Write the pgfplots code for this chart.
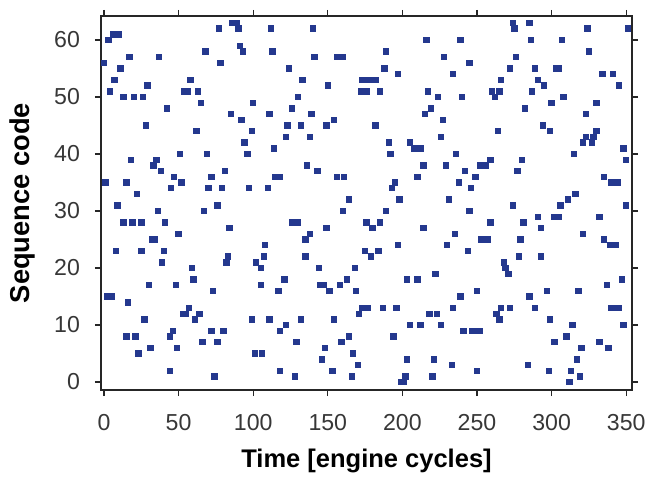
\documentclass[border=0pt]{standalone}
\usepackage{fontspec}
\setmainfont{Liberation Sans}
\usepackage{pgfplots}
\pgfplotsset{compat=1.18}
\definecolor{markblue}{RGB}{36,56,142}
\definecolor{ticktext}{RGB}{55,55,55}
\begin{document}
\begin{tikzpicture}
\useasboundingbox (-50.5bp,-44.5bp) rectangle (277bp,195bp);
\begin{axis}[
  name=ax, at={(0,0)}, anchor=south west,
  scale only axis, width=265.5bp, height=187bp,
  xmin=-2, xmax=353.9, ymin=-1.4, ymax=64.2,
  xtick={0,50,...,350}, ytick={0,10,...,60},
  tick align=outside, major tick length=3bp,
  xtick pos=both, ytick pos=both,
  axis line style={black!85, line width=0.6pt},
  every tick/.style={black!85, line width=0.6pt},
  /pgf/number format/assume math mode=true,
  tick label style={font=\fontsize{11.6}{14}\selectfont, text=ticktext},
  xticklabel style={yshift=-5.5bp},
  yticklabel style={xshift=-4bp},
  xlabel={Time [engine cycles]}, ylabel={Sequence code},
  xlabel style={font=\fontsize{12.8}{15}\bfseries\selectfont, at={(axis description cs:0.5,-0.19)}, anchor=center},
  ylabel style={font=\fontsize{13.7}{16}\bfseries\selectfont, at={(axis description cs:-0.147,0.5)}, anchor=center},
  clip=false,
]
\addplot[only marks, mark=square*, mark size=1.35bp, draw=markblue, fill=markblue] coordinates {
(3,60)(6,61)(8,61)(10,61)(77,62)(86,63)(0,56)(17,57)(37,57)(68,58)(78,56)(11,55)(7,53)(58,53)(4,51)(29,52)(54,51)(56,51)(63,51)(13,50)(20,50)(26,50)(65,49)(42,48)(85,47)(28,45)(62,44)(18,39)(35,39)(51,40)(69,40)(33,38)(38,37)(81,37)(1,35)(15,35)(52,35)(47,36)(72,36)(22,33)(45,34)(70,34)(79,34)
(9,31)(36,30)(67,30)(76,31)(13,28)(19,28)(25,28)(41,28)(84,27)(50,26)(32,25)(34,25)(8,23)(25,23)(40,23)(39,21)(83,22)(82,21)(59,20)(60,18)(30,17)(48,17)(2,15)(5,15)(73,16)(16,14)(27,11)(53,12)(55,12)(57,13)(61,11)(64,12)(15,8)(21,8)(44,8)(46,9)(72,9)(80,9)(66,7)(76,7)(31,6)(49,6)(23,5)(44,2)(74,1)
(89,63)(90,62)(112,62)(140,62)(91,59)(93,58)(113,58)(141,57)(156,57)(160,57)(124,55)(133,53)(150,52)(173,53)(177,53)(172,51)(176,51)(130,50)(100,49)(126,48)(92,46)(111,47)(139,47)(154,46)(99,44)(123,45)(132,45)(149,45)(94,42)(122,43)(138,43)(96,40)(114,41)(136,38)(143,37)(115,36)(118,36)(156,36)(161,36)(97,34)(110,34)(164,32)
(160,30)(126,28)(128,28)(130,28)(149,27)(176,28)(138,26)(135,25)(108,24)(107,22)(102,21)(105,20)(135,22)(144,20)(168,20)(121,18)(105,17)(117,16)(145,17)(147,17)(151,16)(158,17)(163,18)(169,16)(173,13)(177,13)(171,12)(99,11)(111,11)(132,11)(154,11)(122,10)(118,9)(164,8)(159,7)(129,7)(148,6)(167,5)(101,5)(106,5)(146,4)(170,3)(118,2)(153,2)(128,1)(166,1)
(216,60)(239,60)(189,58)(228,57)(245,56)(188,55)(197,54)(234,54)(179,53)(182,53)(266,53)(185,51)(217,51)(224,50)(240,50)(260,51)(265,51)(262,50)(219,48)(215,47)(227,46)(182,45)(264,44)(226,43)(191,42)(205,42)(208,41)(212,41)(192,40)(236,40)(214,38)(229,38)(252,38)(256,38)(259,39)(242,37)(249,36)(210,36)(238,35)(195,35)(193,34)(246,34)(198,32)(231,32)
(189,30)(245,30)(185,28)(180,27)(214,27)(259,28)(235,26)(253,25)(255,25)(257,25)(197,24)(230,24)(175,23)(179,22)(184,23)(244,23)(222,19)(203,18)(210,18)(250,16)(239,15)(187,13)(196,13)(234,13)(218,12)(223,12)(263,12)(265,11)(205,10)(212,10)(226,10)(241,9)(247,9)(250,9)(252,9)(194,8)(203,4)(221,4)(233,3)(250,2)(220,1)(199,0)(201,0)(202,1)
(274,63)(275,62)(285,63)(324,62)(351,62)(286,60)(307,60)(325,58)(276,57)(272,55)(289,55)(303,55)(305,55)(334,54)(341,54)(291,53)(295,52)(345,52)(287,51)(308,50)(300,49)(330,49)(282,48)(323,47)(294,45)(299,44)(321,42)(323,43)(327,42)(328,43)(330,44)(315,40)(348,41)(350,39)(280,39)(277,37)(335,36)(340,35)(342,35)(344,35)(316,33)(311,32)(306,31)(274,31)(350,31)
(281,28)(291,29)(302,29)(305,29)(332,29)(293,27)(321,26)(279,25)(335,25)(339,24)(341,24)(343,24)(278,22)(293,22)(268,21)(269,20)(271,19)(347,18)(337,17)(297,16)(318,16)(285,15)(266,13)(272,13)(289,13)(340,13)(343,13)(345,13)(299,11)(314,10)(348,10)(310,8)(302,7)(332,7)(320,6)(338,6)(317,4)(284,3)(298,2)(313,2)(319,1)(312,0)
};
\end{axis}
\end{tikzpicture}
\end{document}
